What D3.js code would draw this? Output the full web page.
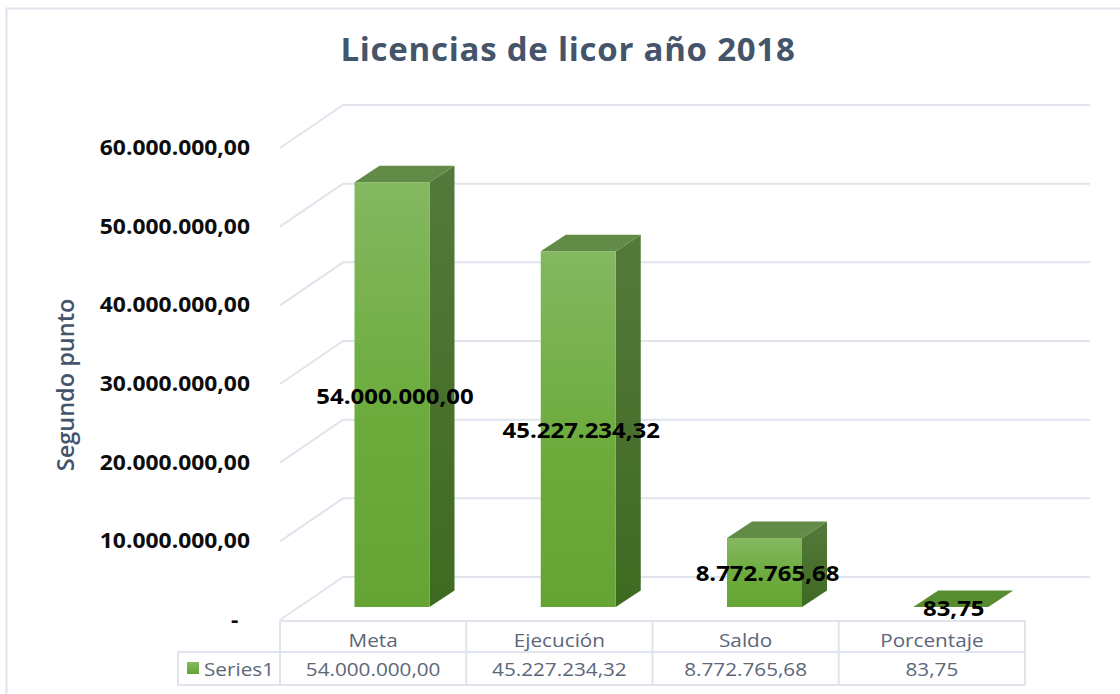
<!DOCTYPE html>
<html><head><meta charset="utf-8">
<script src="https://cdnjs.cloudflare.com/ajax/libs/d3/7.8.5/d3.min.js"></script>
<style>html,body{margin:0;background:#fff}svg{display:block}</style></head>
<body><svg id="c" width="1120" height="694"></svg>
<script>
const categories=["Meta","Ejecución","Saldo","Porcentaje"];
const values=[54000000,45227234.32,8772765.68,83.75];
const valueLabels=["54.000.000,00","45.227.234,32","8.772.765,68","83,75"];
const tickValues=[0,10000000,20000000,30000000,40000000,50000000,60000000];
const tickLabels=["-","10.000.000,00","20.000.000,00","30.000.000,00","40.000.000,00","50.000.000,00","60.000.000,00"];
const seriesName="Series1";
const title="Licencias de licor año 2018";
const yTitle="Segundo punto";

const FONT="'Open Sans','Noto Sans',sans-serif";
const GRID="#e0e4ec";
const svg=d3.select("#c");
const y=d3.scaleLinear().domain([0,60000000]).range([472,0]);
const x=d3.scaleBand().domain(categories).range([280,1025]).paddingInner(0);
const barW=75, barOffset=74.5, labelOffset=115, depthX=25, depthY=16.5, gridDX=63, stretch=1.115, tableStretch=1.12;
const frontTop=148, backTop=105, barTop=135;

const defs=svg.append("defs");
function grad(id,stops){
  const g=defs.append("linearGradient").attr("id",id).attr("x1",0).attr("y1",0).attr("x2",0).attr("y2",1);
  stops.forEach(s=>g.append("stop").attr("offset",s[0]).attr("stop-color",s[1]));
}
grad("face",[[0,"#84b861"],[0.55,"#6cab3c"],[1,"#64a334"]]);
grad("side",[[0,"#55793b"],[1,"#3e6a21"]]);
grad("key",[[0,"#86ba64"],[1,"#64a334"]]);

// outer frame
svg.append("path").attr("d","M6.5,694V8.5H1120").attr("fill","none").attr("stroke",GRID).attr("stroke-width",2);

// title
svg.append("text").attr("x",568).attr("y",61).attr("text-anchor","middle")
  .attr("font-family",FONT).attr("font-weight",700).attr("font-size",33).attr("fill","#44546a").attr("letter-spacing",0.75).text(title);

// walls
const walls=svg.append("g").attr("fill","none").attr("stroke",GRID).attr("stroke-width",2);
walls.selectAll("path.g").data(tickValues).join("path").attr("class","g")
  .attr("d",d=>{
    const b=y(d)+backTop, f=y(d)+frontTop;
    return d3.line()([[280,f],[280+gridDX,b],[1090,b]]);
  });

// y axis
const axis=d3.axisLeft(y).tickValues(tickValues).tickSize(0).tickPadding(0)
  .tickFormat(d=>tickLabels[tickValues.indexOf(d)]);
const ax=svg.append("g").attr("transform",`translate(250,${frontTop})`).call(axis);
ax.select(".domain").remove();
ax.selectAll("text").attr("x",0).attr("font-family",FONT).attr("font-weight",700).attr("font-size",20.5).attr("fill","#0d0d0d").attr("dy","0.32em")
  .attr("transform",`scale(${stretch},1)`);
ax.selectAll(".tick").filter(d=>d===0).select("text").attr("x",-10.5);

// y title
svg.append("text").attr("transform","translate(74,385) rotate(-90)").attr("text-anchor","middle")
  .attr("font-family",FONT).attr("font-weight",600).attr("font-size",23.5).attr("fill","#44546a").text(yTitle);

// bars
const bars=svg.append("g").selectAll("g").data(categories.map((c,i)=>({c,v:values[i]}))).join("g")
  .attr("transform",d=>`translate(${x(d.c)+barOffset},${barTop})`);
bars.append("path").attr("fill","url(#side)")
  .attr("d",d=>d3.line()([[barW,y(d.v)],[barW+depthX,y(d.v)-depthY],[barW+depthX,y(0)-depthY],[barW,y(0)]]));
bars.append("path").attr("fill",d=>d.v<1000?"#578c31":"#638b48")
  .attr("d",d=>d3.line()([[0,y(d.v)],[depthX,y(d.v)-depthY],[barW+depthX,y(d.v)-depthY],[barW,y(d.v)]]));
bars.append("rect").attr("fill","url(#face)").attr("width",barW)
  .attr("y",d=>y(d.v)).attr("height",d=>y(0)-y(d.v));

// data labels
svg.append("g").selectAll("text").data(categories).join("text")
  .attr("transform",(d,i)=>`translate(${x(d)+labelOffset},${barTop+(y(values[i])+y(0))/2+9}) scale(${stretch},1)`)
  .attr("text-anchor","middle").attr("font-family",FONT).attr("font-weight",700).attr("font-size",21.5).attr("fill","#000")
  .text((d,i)=>valueLabels[i]);

// data table
const rowA=621,rowB=652,rowC=685,keyLeft=178;
const t=svg.append("g").attr("fill","none").attr("stroke",GRID).attr("stroke-width",2);
t.append("path").attr("d",`M280,${rowA}H1025V${rowC}H${keyLeft}V${rowB}H1025`);
t.selectAll("path.v").data(categories).join("path").attr("class","v")
  .attr("d",d=>`M${x(d)},${rowA}V${rowC}`);
const tt=svg.append("g").attr("font-family",FONT).attr("font-size",18.5).attr("fill","#5b6679").attr("text-anchor","middle");
tt.selectAll("text.h").data(categories).join("text").attr("class","h")
  .attr("transform",d=>`translate(${x(d)+x.bandwidth()/2},647) scale(${tableStretch},1)`).text(d=>d);
tt.selectAll("text.v").data(categories).join("text").attr("class","v")
  .attr("transform",d=>`translate(${x(d)+x.bandwidth()/2},676) scale(${tableStretch},1)`).text((d,i)=>valueLabels[i]);
svg.append("rect").attr("x",187).attr("y",662).attr("width",12).attr("height",12).attr("fill","url(#key)");
svg.append("text").attr("transform",`translate(204,676) scale(${tableStretch},1)`).attr("font-family",FONT).attr("font-size",18.5).attr("fill","#5b6679").text(seriesName);
</script></body></html>
